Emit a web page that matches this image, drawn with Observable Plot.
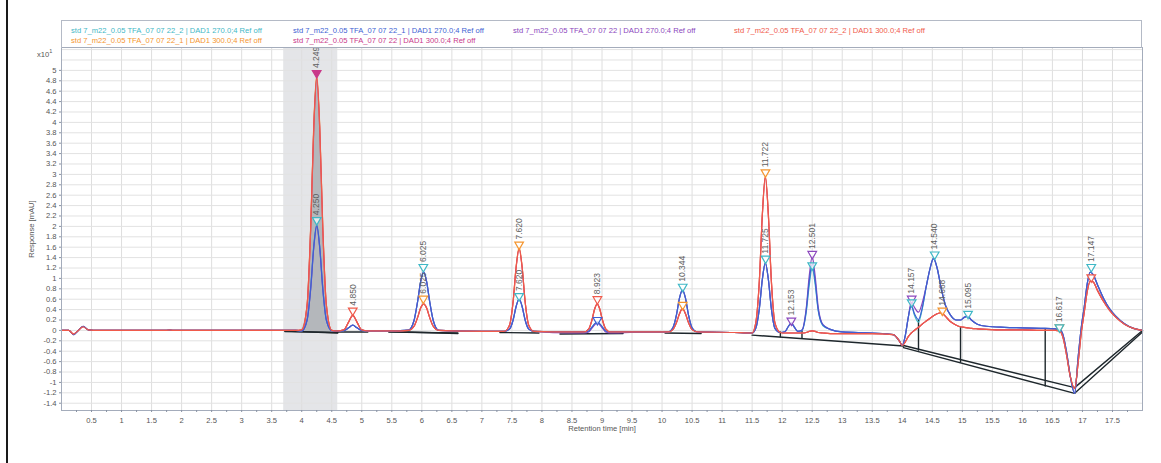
<!DOCTYPE html>
<html><head><meta charset="utf-8">
<script src="https://cdn.jsdelivr.net/npm/d3@7"></script>
<script src="https://cdn.jsdelivr.net/npm/@observablehq/plot@0.6"></script>
<style>
body{margin:0;background:#fff;font-family:"Liberation Sans",Arial,sans-serif;}
#wrap{position:relative;width:1161px;height:463px;overflow:hidden;background:#fff;}
#chart{position:absolute;left:0;top:0;}
#legend{position:absolute;left:61px;top:20px;width:1081px;height:28px;border:1px solid #b4bac6;border-bottom:none;box-sizing:border-box;}
.lg{position:absolute;font-size:7.6px;white-space:nowrap;line-height:1;}
#edge{position:absolute;left:6px;top:0;width:2px;height:463px;background:#1a1a1a;}
#mult{position:absolute;left:37px;top:48px;font-size:7.6px;color:#555;}
#mult sup{font-size:5.5px;}
</style></head>
<body><div id="wrap"><div id="chart"></div><div id="legend"></div><div id="edge"></div><div id="mult">x10<sup>1</sup></div></div>
<script>
// ---- series names and colours ----
const seriesNames = [
  "std 7_m22_0.05 TFA_07 07 22_2 | DAD1 270.0;4 Ref off",
  "std 7_m22_0.05 TFA_07 07 22_1 | DAD1 300.0;4 Ref off",
  "std 7_m22_0.05 TFA_07 07 22_1 | DAD1 270.0;4 Ref off",
  "std 7_m22_0.05 TFA_07 07 22 | DAD1 300.0;4 Ref off",
  "std 7_m22_0.05 TFA_07 07 22 | DAD1 270.0;4 Ref off",
  "std 7_m22_0.05 TFA_07 07 22_2 | DAD1 300.0;4 Ref off"
];
const seriesColors = ["#3fb8c6", "#f5962f", "#3e5fd3", "#c9398a", "#8c47bd", "#f05a4b"];

// ---- retention time (min) ----
const time = [0,0.12,0.2,0.28,0.36,0.45,0.6,1.7,1.8,1.9,3.0,3.9,
4.0,4.09,4.15,4.2,4.25,4.3,4.35,4.41,4.5,
4.6,4.7,4.78,4.85,4.92,5.0,5.1,
5.5,5.78,5.87,5.93,5.98,6.03,6.08,6.13,6.19,6.28,
7.0,7.37,7.46,7.52,7.57,7.62,7.67,7.72,7.78,7.87,
8.5,8.7,8.78,8.83,8.88,8.92,8.96,9.01,9.06,9.14,
9.8,10.1,10.18,10.24,10.29,10.34,10.39,10.44,10.5,10.59,
11.2,11.5,11.56,11.62,11.67,11.72,11.77,11.82,11.88,11.97,
12.05,12.1,12.15,12.2,12.26,
12.33,12.4,12.45,12.5,12.55,12.6,12.68,12.8,13.0,
13.5,13.85,13.95,14.0,14.05,14.1,14.15,14.2,14.27,14.33,
14.4,14.46,14.52,14.58,14.65,14.72,14.8,14.9,14.97,15.03,
15.09,15.15,15.25,15.4,15.7,16.0,16.3,16.55,16.62,16.68,
16.74,16.8,16.87,16.93,16.98,17.03,17.08,17.13,17.18,17.25,
17.35,17.45,17.55,17.7,17.85,18.0];

// ---- responses (x10 mAU) ----
const teal270 = [0,0,-0.08,0,0.08,0.01,0,0,0.005,0,0,0,
-0.01,0.21,0.83,1.62,2.04,1.61,0.82,0.2,-0.005,
-0.01,-0.005,0.05,0.1,0.05,0,-0.01,
-0.01,0.005,0.19,0.56,0.94,1.12,0.94,0.56,0.19,0,
-0.02,-0.02,0.025,0.2,0.46,0.6,0.46,0.2,0.025,-0.02,
-0.03,-0.03,-0.01,0.06,0.13,0.16,0.13,0.06,-0.01,-0.03,
-0.03,-0.03,0.05,0.3,0.62,0.78,0.62,0.3,0.05,-0.03,
-0.04,-0.05,0.04,0.42,0.98,1.3,0.98,0.42,0.04,-0.04,
-0.02,0.07,0.14,0.07,-0.02,
0.0,0.34,0.86,1.2,0.88,0.38,0.09,0.02,-0.03,
-0.05,-0.08,-0.2,-0.29,-0.1,0.25,0.5,0.3,0.16,0.4,
0.85,1.18,1.4,1.2,0.8,0.48,0.3,0.2,0.2,0.25,
0.27,0.2,0.12,0.08,0.06,0.05,0.04,0.03,0.02,-0.1,
-0.45,-0.9,-1.21,-0.5,0.05,0.45,0.9,1.12,1.07,0.88,
0.62,0.42,0.28,0.13,0.04,0];
const blue270 = [0,0,-0.08,0,0.08,0.01,0,0,0.005,0,0,0,
-0.01,0.2,0.82,1.6,2.02,1.6,0.82,0.2,-0.005,
-0.01,-0.005,0.05,0.1,0.05,0,-0.01,
-0.01,0.005,0.19,0.56,0.94,1.12,0.94,0.56,0.19,0,
-0.02,-0.02,0.025,0.2,0.46,0.6,0.46,0.2,0.025,-0.02,
-0.03,-0.03,-0.01,0.06,0.13,0.16,0.13,0.06,-0.01,-0.03,
-0.03,-0.03,0.05,0.3,0.62,0.78,0.62,0.3,0.05,-0.03,
-0.04,-0.05,0.04,0.42,0.98,1.3,0.98,0.42,0.04,-0.04,
-0.02,0.07,0.14,0.07,-0.02,
0.0,0.38,0.94,1.28,0.94,0.4,0.1,0.02,-0.03,
-0.05,-0.08,-0.2,-0.29,-0.1,0.25,0.48,0.33,0.21,0.42,
0.85,1.18,1.38,1.2,0.8,0.48,0.3,0.2,0.2,0.25,
0.27,0.2,0.12,0.08,0.06,0.05,0.04,0.03,0.02,-0.1,
-0.45,-0.9,-1.21,-0.5,0.05,0.45,0.9,1.12,1.07,0.88,
0.62,0.42,0.28,0.13,0.04,0];
const purple270 = [0,0,-0.08,0,0.08,0.01,0,0,0.005,0,0,0,
-0.01,0.2,0.8,1.58,2.0,1.58,0.8,0.2,-0.005,
-0.01,-0.005,0.05,0.1,0.05,0,-0.01,
-0.01,0.005,0.19,0.56,0.94,1.12,0.94,0.56,0.19,0,
-0.02,-0.02,0.025,0.2,0.46,0.6,0.46,0.2,0.025,-0.02,
-0.05,-0.05,-0.03,0.04,0.11,0.14,0.11,0.04,-0.03,-0.05,
-0.03,-0.03,0.05,0.3,0.62,0.78,0.62,0.3,0.05,-0.03,
-0.04,-0.05,0.04,0.42,0.98,1.3,0.98,0.42,0.04,-0.04,
-0.02,0.07,0.14,0.07,-0.02,
0.01,0.42,1.04,1.42,1.04,0.45,0.11,0.02,-0.03,
-0.05,-0.08,-0.2,-0.29,-0.1,0.25,0.55,0.45,0.35,0.52,
0.85,1.18,1.38,1.2,0.8,0.48,0.3,0.2,0.2,0.25,
0.27,0.2,0.12,0.08,0.06,0.05,0.04,0.03,0.02,-0.1,
-0.45,-0.9,-1.21,-0.5,0.05,0.45,0.9,1.12,1.07,0.88,
0.62,0.42,0.28,0.13,0.04,0];
const orange300 = [0,0,-0.07,0,0.07,0.01,0,0,0.005,0,0,0,
0.01,0.5,2.02,3.93,4.92,3.93,2.02,0.5,0,
-0.01,0.01,0.16,0.29,0.16,0.01,-0.01,
-0.01,0,0.08,0.25,0.43,0.51,0.43,0.25,0.08,0,
-0.02,-0.02,0.1,0.56,1.23,1.6,1.23,0.56,0.1,-0.02,
-0.03,-0.03,0.03,0.19,0.42,0.51,0.42,0.19,0.03,-0.03,
-0.03,-0.03,0.015,0.15,0.32,0.42,0.32,0.15,0.015,-0.03,
-0.04,-0.05,0.14,0.96,2.24,2.97,2.24,0.96,0.14,-0.04,
-0.05,-0.05,-0.05,-0.05,-0.05,
-0.05,-0.04,-0.02,-0.01,-0.02,-0.04,-0.05,-0.06,-0.06,
-0.06,-0.08,-0.2,-0.29,-0.22,-0.12,-0.05,0,0.06,0.12,
0.18,0.23,0.28,0.32,0.34,0.27,0.17,0.1,0.07,0.06,
0.05,0.04,0.03,0.02,0.01,0.01,0,0,-0.01,-0.15,
-0.5,-0.9,-1.12,-0.6,-0.05,0.35,0.75,0.95,0.93,0.77,
0.56,0.39,0.26,0.12,0.04,0];
const magenta300 = [0,0,-0.07,0,0.07,0.01,0,0,0.005,0,0,0,
0.01,0.48,1.97,3.86,4.84,3.86,1.97,0.48,0,
-0.01,0.01,0.16,0.29,0.16,0.01,-0.01,
-0.01,0,0.08,0.25,0.43,0.51,0.43,0.25,0.08,0,
-0.02,-0.02,0.1,0.55,1.21,1.57,1.21,0.55,0.1,-0.02,
-0.03,-0.03,0.03,0.19,0.42,0.51,0.42,0.19,0.03,-0.03,
-0.03,-0.03,0.015,0.15,0.32,0.42,0.32,0.15,0.015,-0.03,
-0.04,-0.05,0.14,0.95,2.22,2.95,2.22,0.95,0.14,-0.04,
-0.05,-0.05,-0.05,-0.05,-0.05,
-0.05,-0.04,-0.02,-0.01,-0.02,-0.04,-0.05,-0.06,-0.06,
-0.06,-0.08,-0.2,-0.29,-0.22,-0.12,-0.05,0,0.06,0.12,
0.18,0.23,0.28,0.32,0.34,0.27,0.17,0.1,0.07,0.06,
0.05,0.04,0.03,0.02,0.01,0.01,0,0,-0.01,-0.15,
-0.5,-0.9,-1.12,-0.6,-0.05,0.35,0.75,0.95,0.93,0.77,
0.56,0.39,0.26,0.12,0.04,0];
const red300 = [0,0,-0.07,0,0.07,0.01,0,0,0.005,0,0,0,
0.01,0.49,1.99,3.89,4.87,3.89,1.99,0.49,0,
-0.01,0.01,0.16,0.29,0.16,0.01,-0.01,
-0.01,0,0.08,0.25,0.43,0.51,0.43,0.25,0.08,0,
-0.02,-0.02,0.1,0.55,1.21,1.57,1.21,0.55,0.1,-0.02,
-0.03,-0.03,0.03,0.19,0.42,0.51,0.42,0.19,0.03,-0.03,
-0.03,-0.03,0.015,0.15,0.32,0.42,0.32,0.15,0.015,-0.03,
-0.04,-0.05,0.14,0.95,2.22,2.95,2.22,0.95,0.14,-0.04,
-0.05,-0.05,-0.05,-0.05,-0.05,
-0.05,-0.04,-0.02,-0.01,-0.02,-0.04,-0.05,-0.06,-0.06,
-0.06,-0.08,-0.2,-0.29,-0.22,-0.12,-0.05,0,0.06,0.12,
0.18,0.23,0.28,0.32,0.34,0.27,0.17,0.1,0.07,0.06,
0.05,0.04,0.03,0.02,0.01,0.01,0,0,-0.01,-0.15,
-0.5,-0.9,-1.12,-0.6,-0.05,0.35,0.75,0.95,0.93,0.77,
0.56,0.39,0.26,0.12,0.04,0];

// ---- integration baselines [t1, v1, t2, v2] ----
const baselineSegments = [
  [3.72,-0.01,4.6,-0.05],[3.72,-0.02,4.6,-0.04],[4.55,-0.03,5.1,-0.03],
  [5.45,-0.02,6.6,-0.06],[5.45,-0.03,6.6,-0.05],[7.3,-0.04,7.95,-0.05],
  [8.3,-0.07,9.35,-0.06],[10.05,-0.05,10.65,-0.06],[11.5,-0.09,14.02,-0.3],
  [14.02,-0.29,16.87,-1.1],[14.02,-0.33,16.87,-1.21],
  [16.87,-1.1,18,0],[16.87,-1.21,18,-0.03],
  [11.97,-0.12,11.97,-0.03],[12.33,-0.15,12.33,-0.02],
  [14.27,-0.38,14.27,0.2],[14.97,-0.61,14.97,0.06],[16.38,-1.07,16.38,0.03]
];

// ---- peak markers ----
const peakTimes  = [4.249,4.250,4.850,6.025,6.025,7.620,7.620,8.923,8.923,10.344,10.344,11.722,11.725,12.153,12.501,12.501,14.157,14.157,14.540,14.668,15.095,16.617,16.617,17.147,17.147];
const peakMarkV  = [4.95,2.12,0.38,1.22,0.61,1.65,0.66,0.6,0.2,0.84,0.49,3.04,1.38,0.19,1.47,1.25,0.61,0.54,1.46,0.38,0.32,0.06,0.06,1.22,1.02];
const peakSeries = [3,0,5,0,1,1,0,5,2,0,1,1,0,4,4,0,4,0,0,1,0,1,0,0,5];
const peakLabels = ["4.249","4.250","4.850","6.025","6.025","7.620","7.620","8.923","","10.344","","11.722","11.725","12.153","12.501","","14.157","","14.540","14.668","15.095","16.617","","17.147",""];
const peakFilled = [true,false,false,false,false,false,false,false,false,false,false,false,false,false,false,false,false,false,false,false,false,false,false,false,false];

// ---- highlighted (integrated) region ----
const highlight = [{start: 3.7, end: 4.6}];
const filledPeakRange = [3.98, 4.52];

// ---- axis ticks ----
const xTicks = d3.range(1, 36).map(i => i * 0.5);
const xMinor = d3.range(1, 72).map(i => i * 0.25);
const yTicks = d3.range(-7, 26).map(i => Math.round(i * 2) / 10);
const yGrid  = d3.range(-7, 28).map(i => Math.round(i * 2) / 10);

// ---- build tables ----
const valueArrays = [teal270, orange300, blue270, magenta300, purple270, red300];
const drawOrder = [0, 4, 1, 3, 2, 5];
const traceRows = [];
for (const s of drawOrder) {
  time.forEach((t, i) => traceRows.push({series: seriesNames[s], t, v: valueArrays[s][i]}));
}
const baseRows = [];
baselineSegments.forEach((b, k) => {
  baseRows.push({id: k, t: b[0], v: b[1]});
  baseRows.push({id: k, t: b[2], v: b[3]});
});
const seg0 = baselineSegments[0];
const baseAt = t => seg0[1] + (seg0[3] - seg0[1]) * (t - seg0[0]) / (seg0[2] - seg0[0]);
const fillRows = time.map((t, i) => ({t, v: magenta300[i], b: baseAt(t)}))
  .filter(d => d.t >= filledPeakRange[0] && d.t <= filledPeakRange[1]);
const markRows = peakTimes.map((t, i) => ({t, v: peakMarkV[i], series: seriesNames[peakSeries[i]], label: peakLabels[i], filled: peakFilled[i]}));

const fmt = d => String(Math.round(d * 10) / 10);

const chart = Plot.plot({
  width: 1161, height: 463,
  marginLeft: 61, marginRight: 19, marginTop: 47, marginBottom: 53,
  x: {domain: [0, 18]},
  y: {domain: [-1.54, 5.44]},
  color: {domain: seriesNames, range: seriesColors},
  style: {fontFamily: "'Liberation Sans', Arial, sans-serif", fontSize: "7.6px", color: "#555", background: "white", overflow: "visible"},
  marks: [
    Plot.rectX(highlight, {x1: "start", x2: "end", fill: "#e4e5e8"}),
    Plot.gridX(xTicks, {stroke: "#dedede", strokeOpacity: 1}),
    Plot.gridY(yGrid, {stroke: "#e2e2e2", strokeOpacity: 1}),
    Plot.areaY(fillRows, {x: "t", y1: "b", y2: "v", fill: "#b4b7bb", curve: "monotone-x"}),
    Plot.line(baseRows, {x: "t", y: "v", z: "id", stroke: "#1e272c", strokeWidth: 1.4}),
    Plot.line(traceRows, {x: "t", y: "v", z: "series", stroke: "series", strokeWidth: 1.2, curve: "monotone-x"}),
    Plot.dot(markRows.filter(d => !d.filled), {x: "t", y: "v", symbol: "triangle", rotate: 180, r: 3.2, stroke: "series", fill: "white", fillOpacity: 0.7, strokeWidth: 1.2}),
    Plot.dot(markRows.filter(d => d.filled), {x: "t", y: "v", symbol: "triangle", rotate: 180, r: 3.2, stroke: "series", fill: "series", strokeWidth: 1.2}),
    Plot.text(markRows.filter(d => d.label), {x: "t", y: "v", text: "label", rotate: -90, textAnchor: "start", dy: -5, fontSize: 8.5, fill: "#606060"}),
    Plot.frame({stroke: "#a4acbb"}),
    Plot.axisX(xMinor, {tickSize: 2, tickFormat: () => "", stroke: "#8a93a3", label: null}),
    Plot.axisX(xTicks, {tickSize: 0, tickPadding: 7, tickFormat: fmt, fill: "#555", label: "Retention time [min]", labelAnchor: "center", labelArrow: "none", labelOffset: 20}),
    Plot.axisY(yTicks, {tickSize: 2, tickPadding: 3, tickFormat: fmt, stroke: "#8a93a3", fill: "#555", label: "Response [mAU]", labelAnchor: "center", labelArrow: "none", labelOffset: 33})
  ]
});
document.getElementById("chart").appendChild(chart);

// ---- legend (HTML, above the plot frame) ----
const legendLayout = [[0, 9, 6], [1, 9, 16], [2, 231, 6], [3, 231, 16], [4, 451, 6], [5, 672, 6]];
const leg = document.getElementById("legend");
for (const [s, left, top] of legendLayout) {
  const el = document.createElement("div");
  el.className = "lg";
  el.style.left = left + "px";
  el.style.top = top + "px";
  el.style.color = seriesColors[s];
  el.textContent = seriesNames[s];
  leg.appendChild(el);
}
</script>
</body></html>
